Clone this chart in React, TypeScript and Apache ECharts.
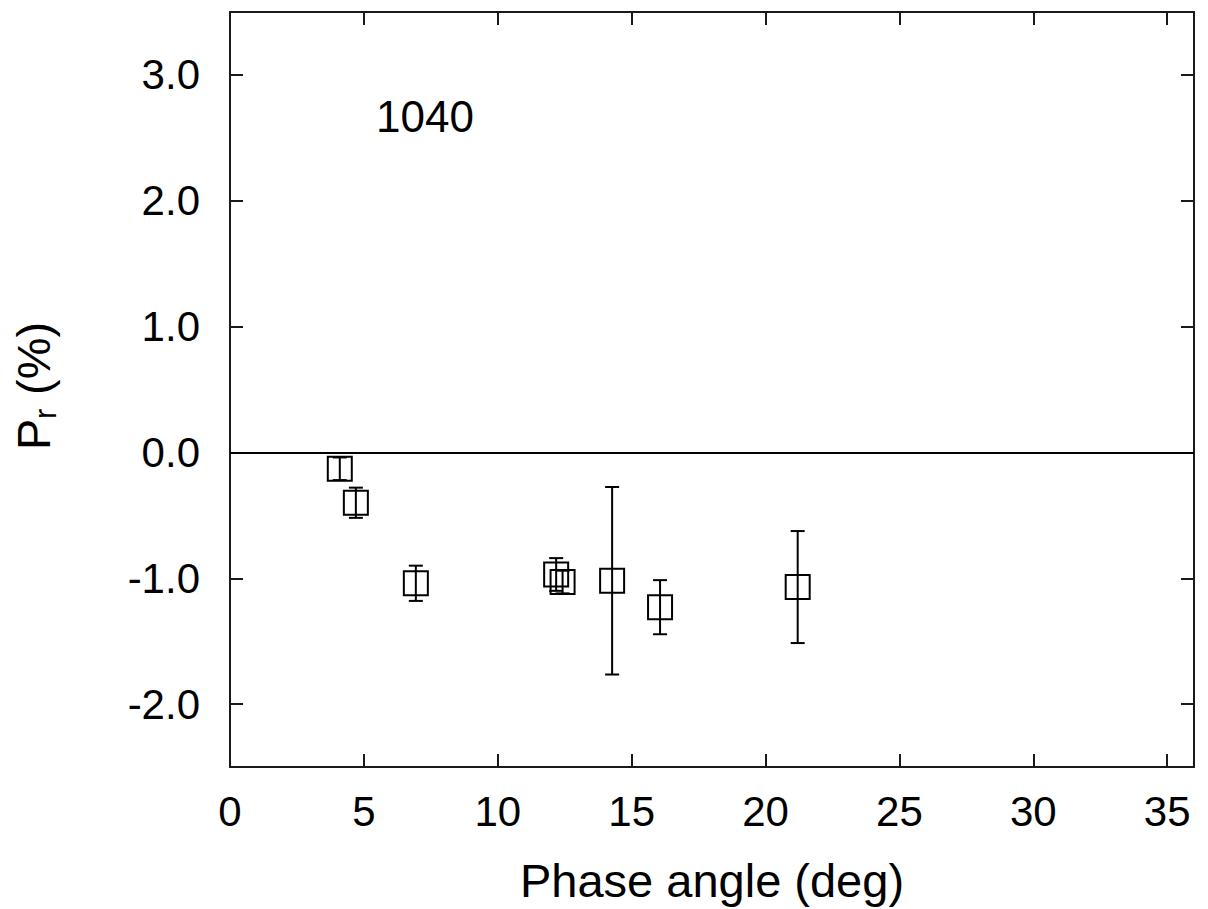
import React, { useEffect, useRef } from "react";
import * as echarts from "echarts";

const xValues = [4.1, 4.7, 6.94, 12.18, 12.42, 14.27, 16.06, 21.2];
const yValues = [-0.13, -0.4, -1.04, -0.97, -1.03, -1.02, -1.23, -1.07];
const yErrors = [0.09, 0.12, 0.14, 0.13, 0.09, 0.745, 0.215, 0.445];
const xTicks = [0, 5, 10, 15, 20, 25, 30, 35];
const yTicks = [-2, -1, 0, 1, 2, 3];
const xTitle = "Phase angle (deg)";
const objectLabel = "1040";

const FONT = "Liberation Sans, Arial, Helvetica, sans-serif";
const AX = "#1a1a1a";

export default function App() {
  const ref = useRef<HTMLDivElement>(null);
  useEffect(() => {
    document.body.style.margin = "0";
    if (!ref.current) return;
    const chart = echarts.init(ref.current, null, { renderer: "svg" });
    const points = xValues.map((x, i) => [x, yValues[i], yErrors[i]]);
    const axisCommon = {
      axisLine: { show: true, onZero: false, lineStyle: { color: AX, width: 2 } },
      splitLine: { show: false },
    };
    const option: any = {
      animation: false,
      backgroundColor: "#fff",
      grid: { left: 230, right: 14, top: 12, bottom: 138, containLabel: false },
      xAxis: [
        {
          type: "value",
          min: 0,
          max: 36,
          position: "bottom",
          ...axisCommon,
          axisTick: { show: true, inside: true, length: 13, lineStyle: { color: AX, width: 2 }, customValues: xTicks },
          axisLabel: {
            show: true,
            customValues: xTicks,
            fontSize: 42,
            color: "#000",
            fontFamily: FONT,
            margin: 23,
            formatter: (v: number) => String(v),
          },
          name: xTitle,
          nameLocation: "middle",
          nameGap: 90,
          nameTextStyle: { fontSize: 47, color: "#000", fontFamily: FONT },
        },
        {
          type: "value",
          min: 0,
          max: 36,
          position: "top",
          ...axisCommon,
          axisTick: { show: true, inside: true, length: 13, lineStyle: { color: AX, width: 2 }, customValues: xTicks },
          axisLabel: { show: false },
        },
      ],
      yAxis: [
        {
          type: "value",
          min: -2.5,
          max: 3.5,
          position: "left",
          ...axisCommon,
          axisTick: { show: true, inside: true, length: 13, lineStyle: { color: AX, width: 2 }, customValues: yTicks },
          axisLabel: {
            show: true,
            customValues: yTicks,
            fontSize: 42,
            color: "#000",
            fontFamily: FONT,
            margin: 30,
            formatter: (v: number) => v.toFixed(1),
          },
        },
        {
          type: "value",
          min: -2.5,
          max: 3.5,
          position: "right",
          ...axisCommon,
          axisTick: { show: true, inside: true, length: 13, lineStyle: { color: AX, width: 2 }, customValues: yTicks },
          axisLabel: { show: false },
        },
      ],
      graphic: [
        {
          type: "text",
          left: 376,
          top: 94,
          style: { text: objectLabel, fontSize: 44, fill: "#000", fontFamily: FONT },
        },
        {
          type: "group",
          x: 33,
          y: 450,
          rotation: Math.PI / 2,
          children: [
            {
              type: "text",
              x: 0,
              y: 0,
              style: { text: "P", fontSize: 47, fill: "#000", fontFamily: FONT, align: "left", verticalAlign: "middle" },
            },
            {
              type: "text",
              x: 31,
              y: 12,
              style: { text: "r", fontSize: 31, fill: "#000", fontFamily: FONT, align: "left", verticalAlign: "middle" },
            },
            {
              type: "text",
              x: 42,
              y: 0,
              style: { text: " (%)", fontSize: 47, fill: "#000", fontFamily: FONT, align: "left", verticalAlign: "middle" },
            },
          ],
        },
      ],
      series: [
        {
          type: "custom",
          xAxisIndex: 0,
          yAxisIndex: 0,
          data: points,
          encode: { x: 0, y: 1 },
          silent: true,
          renderItem: (params: any, api: any) => {
            const x = api.value(0);
            const y = api.value(1);
            const e = api.value(2);
            const top = api.coord([x, y + e]);
            const bot = api.coord([x, y - e]);
            const hw = 7;
            const st = { stroke: "#000", lineWidth: 2 };
            return {
              type: "group",
              children: [
                { type: "line", shape: { x1: top[0], y1: top[1], x2: bot[0], y2: bot[1] }, style: st },
                { type: "line", shape: { x1: top[0] - hw, y1: top[1], x2: top[0] + hw, y2: top[1] }, style: st },
                { type: "line", shape: { x1: bot[0] - hw, y1: bot[1], x2: bot[0] + hw, y2: bot[1] }, style: st },
              ],
            };
          },
          z: 2,
        },
        {
          type: "scatter",
          xAxisIndex: 0,
          yAxisIndex: 0,
          data: points.map((p) => [p[0], p[1]]),
          symbol: "rect",
          symbolSize: 24,
          itemStyle: { color: "rgba(0,0,0,0)", borderColor: "#000", borderWidth: 2, opacity: 1 },
          silent: true,
          z: 3,
          markLine: {
            silent: true,
            symbol: "none",
            label: { show: false },
            lineStyle: { color: "#000", width: 2, type: "solid" },
            data: [{ yAxis: 0 }],
          },
        },
      ],
    };
    chart.setOption(option);
    return () => chart.dispose();
  }, []);
  return <div ref={ref} style={{ width: 1208, height: 909 }} />;
}
